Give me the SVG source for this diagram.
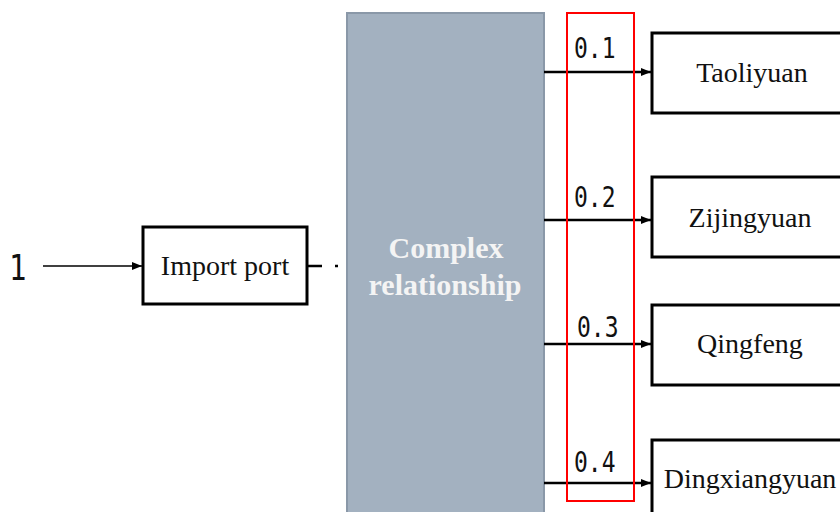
<svg xmlns="http://www.w3.org/2000/svg" width="840" height="512" viewBox="0 0 840 512">
<defs>
<style>
.box{fill:#fff;stroke:#000;stroke-width:3}
.lbl{font-family:"Liberation Serif","Times New Roman",serif;font-size:28px;fill:#111;text-anchor:middle}
.num{font-family:"DejaVu Sans Mono","Liberation Mono",monospace;font-size:23px;fill:#111}
.conn{stroke:#000;stroke-width:2.5;fill:none}
.cx{font-family:"Liberation Serif","Times New Roman",serif;font-size:30px;font-weight:bold;fill:#f4f4f4;text-anchor:middle}
</style>
<marker id="ah" viewBox="0 0 10 10" refX="10" refY="5" markerWidth="10" markerHeight="10" markerUnits="userSpaceOnUse" orient="auto">
<path d="M0,1 L10,5 L0,9 z" fill="#000"/>
</marker>
</defs>
<rect width="840" height="512" fill="#fff"/>
<g id="input-label"><text transform="translate(9,280) scale(1,1.2)" font-family="DejaVu Sans Mono, Liberation Mono, monospace" font-size="29" fill="#111">1</text></g>
<g id="import-port">
<rect class="box" x="143" y="227" width="164" height="77"/>
<text class="lbl" x="225" y="275" font-size="26">Import port</text>
</g>
<g id="complex">
<rect x="347" y="13" width="197" height="510" fill="#a3b1c0" stroke="#8a98a8" stroke-width="2"/>
<text class="cx" x="446" y="258">Complex</text>
<text class="cx" x="445" y="295">relationship</text>
</g>
<g id="taoliyuan"><rect class="box" x="652" y="33" width="200" height="80"/><text class="lbl" x="752" y="82">Taoliyuan</text></g>
<g id="zijingyuan"><rect class="box" x="652" y="177" width="200" height="80"/><text class="lbl" x="750" y="227">Zijingyuan</text></g>
<g id="qingfeng"><rect class="box" x="652" y="305" width="200" height="80"/><text class="lbl" x="750" y="353">Qingfeng</text></g>
<g id="dingxiangyuan"><rect class="box" x="652" y="440" width="200" height="80"/><text class="lbl" x="750" y="488">Dingxiangyuan</text></g>
<g id="connectors">
<line x1="43" y1="266" x2="142" y2="266" stroke="#000" stroke-width="1.5" marker-end="url(#ah)"/>
<line x1="307" y1="266" x2="346" y2="266" stroke="#000" stroke-width="2.5" stroke-dasharray="15,13,3,20"/>
<line class="conn" x1="544" y1="72" x2="651" y2="72" marker-end="url(#ah)"/>
<line class="conn" x1="544" y1="220" x2="651" y2="220" marker-end="url(#ah)"/>
<line class="conn" x1="544" y1="344" x2="651" y2="344" marker-end="url(#ah)"/>
<line class="conn" x1="544" y1="483" x2="651" y2="483" marker-end="url(#ah)"/>
<text class="num" transform="translate(574,58) scale(1,1.25)">0.1</text>
<text class="num" transform="translate(574,207) scale(1,1.25)">0.2</text>
<text class="num" transform="translate(577,337) scale(1,1.25)">0.3</text>
<text class="num" transform="translate(574,472) scale(1,1.25)">0.4</text>
</g>
<g id="highlight"><rect x="567" y="13" width="67" height="488" fill="none" stroke="#f00" stroke-width="2"/></g>
</svg>
